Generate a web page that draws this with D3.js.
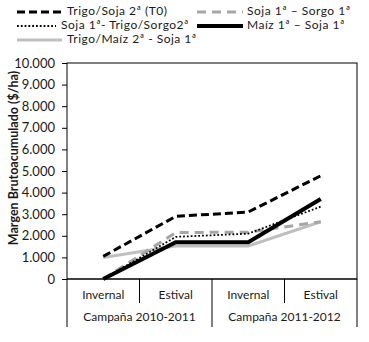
<!DOCTYPE html>
<html><head><meta charset="utf-8">
<script src="https://cdn.jsdelivr.net/npm/d3@7"></script>
<style>
html,body{margin:0;padding:0;background:#fff;}
text{font-family:Lato,"Open Sans",sans-serif;fill:#1a1a1a;}
</style></head>
<body><svg id="c" width="369" height="342"></svg>
<script>
const categories = ["Invernal","Estival","Invernal","Estival"];
const groups = ["Campaña 2010-2011","Campaña 2011-2012"];
const yTicks = [0,1000,2000,3000,4000,5000,6000,7000,8000,9000,10000];
const yTickLabels = ["0","1.000","2.000","3.000","4.000","5.000","6.000","7.000","8.000","9.000","10.000"];
const seriesNames = ["Trigo/Soja 2ª (T0)","Soja 1ª – Sorgo 1ª","Soja 1ª- Trigo/Sorgo2ª","Maíz 1ª – Soja 1ª","Trigo/Maíz 2ª - Soja 1ª"];
const trigoSoja = [1050, 2900, 3100, 4780];
const sojaSorgo = [0, 2150, 2170, 2650];
const sojaTrigoSorgo = [0, 1950, 2100, 3350];
const maizSoja = [0, 1700, 1700, 3700];
const trigoMaizSoja = [1000, 1530, 1530, 2650];

const svg = d3.select("#c");
const L=67,R=357,T=63,B=279;
const x = d3.scaleBand().domain(d3.range(categories.length)).range([L,R]).padding(0);
const y = d3.scaleLinear().domain([0,10000]).range([B,T]);

// y axis
const ya = svg.append("g").attr("transform",`translate(${L},0)`)
  .call(d3.axisLeft(y).tickValues(yTicks).tickSize(5).tickPadding(7).tickFormat((d,i)=>yTickLabels[i]));
ya.select(".domain").remove();
ya.selectAll("line").attr("stroke","#000");
ya.selectAll("text").style("font-size","13px").attr("fill","#1a1a1a");

// plot border
svg.append("rect").attr("x",L).attr("y",T).attr("width",R-L).attr("height",B-T)
  .attr("fill","none").attr("stroke","#000").attr("stroke-width",1);

// category axis
const bot = svg.append("g");
bot.append("line").attr("x1",L).attr("x2",R).attr("y1",B).attr("y2",B).attr("stroke","#000");
const bw = x.bandwidth();
d3.range(categories.length+1).forEach(i=>{
  const xx = L + i*bw;
  const long = (i%2===0);
  bot.append("line").attr("x1",xx).attr("x2",xx).attr("y1",B).attr("y2",long?327:303).attr("stroke","#000");
});
bot.selectAll("text.cat").data(categories).enter().append("text")
  .attr("x",(d,i)=>x(i)+bw/2).attr("y",296).attr("text-anchor","middle").attr("dominant-baseline","middle")
  .style("font-size","12px").text(d=>d);
bot.selectAll("text.grp").data(groups).enter().append("text")
  .attr("x",(d,i)=>L+bw*(2*i+1)).attr("y",318).attr("text-anchor","middle").attr("dominant-baseline","middle")
  .style("font-size","12px").text(d=>d);

// y title
svg.append("text").attr("transform","translate(15,158) rotate(-90)").attr("text-anchor","middle")
  .attr("dominant-baseline","middle").style("font-size","12.5px").style("font-weight","bold").text("Margen Brutoacumulado ($/ha)");

// series
const styles = [
  {data:trigoSoja, color:"#000", w:3, dash:"8,4"},
  {data:sojaSorgo, color:"#a6a6a6", w:3, dash:"9,6"},
  {data:sojaTrigoSorgo, color:"#000", w:1.8, dash:"1.8,2"},
  {data:maizSoja, color:"#000", w:4, dash:null},
  {data:trigoMaizSoja, color:"#bfbfbf", w:3, dash:null}
];
const line = d3.line().x((d,i)=>x(i)+bw/2).y(d=>y(d));
const drawOrder=[4,1,2,3,0];
drawOrder.forEach(k=>{
  const s=styles[k];
  svg.append("path").datum(s.data).attr("d",line).attr("fill","none")
    .attr("stroke",s.color).attr("stroke-width",s.w).attr("stroke-dasharray",s.dash);
});

// legend
const leg = [
  {k:0,x1:17,x2:62,tx:67,y:12},
  {k:1,x1:197,x2:243,tx:247,y:12},
  {k:2,x1:17,x2:56,tx:61,y:26},
  {k:3,x1:197,x2:243,tx:247,y:26},
  {k:4,x1:17,x2:62,tx:67,y:40}
];
leg.forEach(l=>{
  const s=styles[l.k];
  svg.append("line").attr("x1",l.x1).attr("x2",l.x2).attr("y1",l.y).attr("y2",l.y)
    .attr("stroke",s.color).attr("stroke-width",s.w).attr("stroke-dasharray",s.dash);
  svg.append("text").attr("x",l.tx).attr("y",l.y).attr("dominant-baseline","middle")
    .style("font-size","12px").style("letter-spacing","0.5px").text(seriesNames[l.k]);
});
</script></body></html>
